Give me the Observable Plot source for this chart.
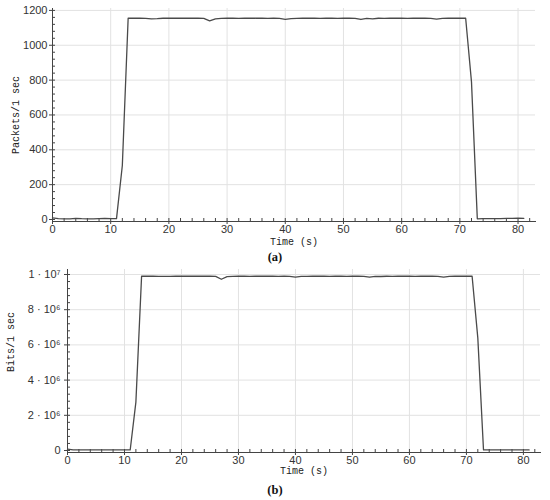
<!DOCTYPE html>
<html><head><meta charset="utf-8">
<script src="https://cdn.jsdelivr.net/npm/d3@7"></script>
<script src="https://cdn.jsdelivr.net/npm/@observablehq/plot@0.6"></script>
<style>
body{margin:0;background:#fff;width:550px}
.cap{font-family:"Liberation Serif",serif;font-weight:bold;font-size:12.5px;text-align:center;height:14px;line-height:14px;color:#111}
</style></head><body>
<div id="a"></div><div class="cap" style="margin-top:2px">(a)</div>
<div id="b"></div><div class="cap" style="margin-top:3px">(b)</div>
<script>
const time = [0,1,2,3,4,5,6,7,8,9,10,11,12,13,14,15,16,17,18,19,20,21,22,23,24,25,26,27,28,29,30,31,32,33,34,35,36,37,38,39,40,41,42,43,44,45,46,47,48,49,50,51,52,53,54,55,56,57,58,59,60,61,62,63,64,65,66,67,68,69,70,71,72,73,74,75,76,77,78,79,80,81];
const packets = [9,5,4,4,7,5,4,4,5,6,5,5,310,1155,1156,1155,1154,1152,1153,1155,1155,1156,1155,1155,1156,1155,1154,1140,1152,1154,1155,1155,1154,1155,1156,1155,1155,1154,1155,1154,1149,1153,1154,1155,1155,1155,1154,1155,1155,1154,1155,1155,1154,1148,1154,1152,1155,1154,1155,1155,1155,1154,1155,1155,1155,1154,1150,1154,1155,1155,1155,1155,790,4,5,5,5,5,6,6,8,7];
const bits = [80000,30000,30000,30000,40000,30000,30000,30000,30000,30000,30000,30000,2750000,9900000,9905000,9900000,9895000,9890000,9895000,9900000,9900000,9905000,9900000,9900000,9905000,9900000,9895000,9730000,9880000,9895000,9900000,9900000,9895000,9900000,9905000,9900000,9900000,9895000,9900000,9895000,9850000,9890000,9895000,9900000,9900000,9900000,9895000,9900000,9900000,9895000,9900000,9900000,9895000,9845000,9895000,9885000,9900000,9895000,9900000,9900000,9900000,9895000,9900000,9900000,9900000,9895000,9850000,9895000,9900000,9900000,9900000,9900000,6400000,30000,30000,30000,30000,30000,30000,30000,40000,35000];
const xTicks = [0,10,20,30,40,50,60,70,80];
const xMinor = [0,2,4,6,8,10,12,14,16,18,20,22,24,26,28,30,32,34,36,38,40,42,44,46,48,50,52,54,56,58,60,62,64,66,68,70,72,74,76,78,80,82];
const yTicksA = [0,200,400,600,800,1000,1200];
const yMinorA = [0,40,80,120,160,200,240,280,320,360,400,440,480,520,560,600,640,680,720,760,800,840,880,920,960,1000,1040,1080,1120,1160,1200];
const yTicksB = [0,2e6,4e6,6e6,8e6,1e7];
const yMinorB = [0,4e5,8e5,1.2e6,1.6e6,2e6,2.4e6,2.8e6,3.2e6,3.6e6,4e6,4.4e6,4.8e6,5.2e6,5.6e6,6e6,6.4e6,6.8e6,7.2e6,7.6e6,8e6,8.4e6,8.8e6,9.2e6,9.6e6,1e7];
const yLabelsB = ["0","2 · 10⁶","4 · 10⁶","6 · 10⁶","8 · 10⁶","1 · 10⁷"];
const xTitle = "Time (s)";
const yTitleA = "Packets/1 sec";
const yTitleB = "Bits/1 sec";

const sans = "'Liberation Sans', Arial, sans-serif";
const mono = "'Liberation Mono', 'DejaVu Sans Mono', monospace";
const axisColor = "#444";
const gridColor = "#e2e2e2";
const lineColor = "#4a4a4a";

function panel({values, width, height, marginLeft, marginRight, marginTop, marginBottom, yDomain, yTicks, yMinor, yFormat, yPad, yTitle, yTitleDx, yTitleDy, xTitleDy}) {
  const data = time.map((t, i) => ({t, v: values[i]}));
  return Plot.plot({
    width, height, marginLeft, marginRight, marginTop, marginBottom,
    style: {background: "white", color: "#333", fontFamily: sans, fontSize: "11px"},
    x: {domain: [0, 83], label: null},
    y: {domain: yDomain, label: null},
    marks: [
      Plot.gridX(xTicks.slice(1), {stroke: gridColor, strokeOpacity: 1}),
      Plot.gridY(yTicks.slice(1), {stroke: gridColor, strokeOpacity: 1}),
      Plot.axisX(xMinor, {tickSize: -3, tickFormat: () => "", stroke: axisColor}),
      Plot.axisY(yMinor, {tickSize: -3, tickFormat: () => "", stroke: axisColor}),
      Plot.axisX(xTicks, {tickSize: 3, tickPadding: 1, stroke: axisColor, fill: "#333", fontFamily: sans, fontSize: 11}),
      Plot.axisY(yTicks, {tickSize: 3, tickPadding: yPad, tickFormat: yFormat, stroke: axisColor, fill: "#333", fontFamily: sans, fontSize: 11}),
      Plot.frame({anchor: "left", stroke: axisColor}),
      Plot.frame({anchor: "bottom", stroke: axisColor}),
      Plot.line(data, {x: "t", y: "v", stroke: lineColor, strokeWidth: 1.3}),
      Plot.text([xTitle], {frameAnchor: "bottom", lineAnchor: "middle", textAnchor: "middle", dy: xTitleDy, fontFamily: mono, fontSize: 10, fill: "#222"}),
      Plot.text([yTitle], {frameAnchor: "left", lineAnchor: "middle", textAnchor: "middle", dx: yTitleDx, dy: yTitleDy, rotate: -90, fontFamily: mono, fontSize: 10, fill: "#222"})
    ]
  });
}

document.getElementById("a").append(panel({
  values: packets, width: 550, height: 248, marginLeft: 52, marginRight: 15, marginTop: 8, marginBottom: 27,
  yDomain: [-11.5, 1211], yTicks: yTicksA, yMinor: yMinorA, yFormat: d => String(d), yPad: 2,
  yTitle: yTitleA, yTitleDx: -37, yTitleDy: 0, xTitleDy: 20
}));
document.getElementById("b").append(panel({
  values: bits, width: 550, height: 216, marginLeft: 67, marginRight: 10, marginTop: 5, marginBottom: 28,
  yDomain: [-113600, 10284000], yTicks: yTicksB, yMinor: yMinorB, yFormat: (d, i) => yLabelsB[yTicksB.indexOf(d)], yPad: 4,
  yTitle: yTitleB, yTitleDx: -57, yTitleDy: -19, xTitleDy: 18
}));
</script>
</body></html>
